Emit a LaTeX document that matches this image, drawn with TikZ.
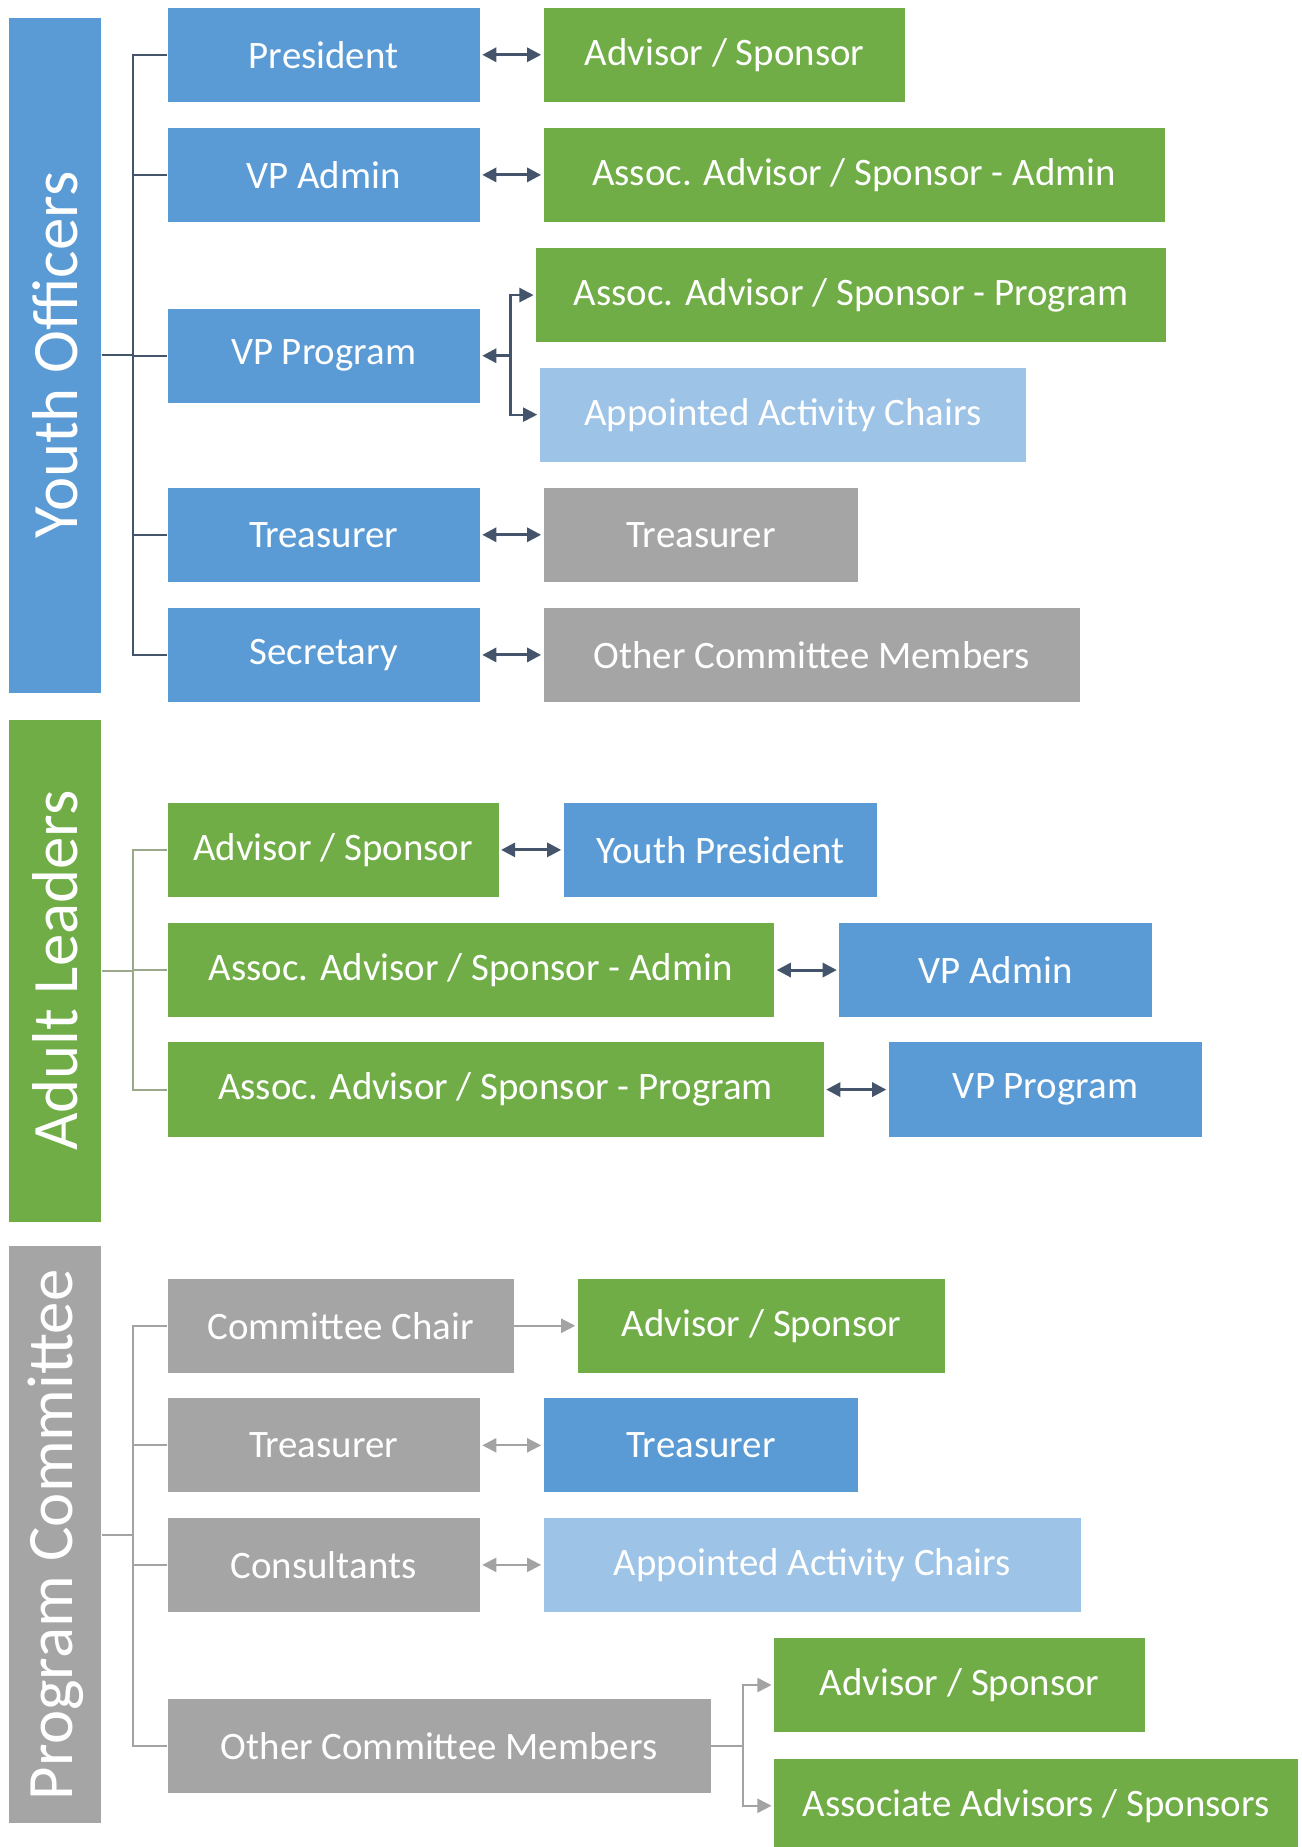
\documentclass[tikz,border=0pt]{standalone}
\usepackage{fontspec}
\setmainfont{Carlito}
\usetikzlibrary{positioning,arrows.meta}
\definecolor{offblue}{HTML}{5B9BD5}
\definecolor{offgreen}{HTML}{70AD47}
\definecolor{offgray}{HTML}{A5A5A5}
\definecolor{offpale}{HTML}{9DC3E6}
\definecolor{slate}{HTML}{44546A}
\definecolor{softline}{HTML}{A3A3A3}
\definecolor{olivegray}{HTML}{9AA88C}
\tikzset{
  rect/.style={
    rectangle,
    anchor=west,
    inner sep=0pt,
    minimum height=80pt,
    text=white,
    font=\fontsize{33}{40}\selectfont,
  },
  bluebox/.style={rect, fill=offblue},
  greenbox/.style={rect, fill=offgreen},
  graybox/.style={rect, fill=offgray},
  palebox/.style={rect, fill=offpale},
  bar/.style={
    rectangle,
    rotate=90,
    inner sep=0pt,
    minimum height=78pt,
    text=white,
    font=\fontsize{55}{60}\selectfont,
  },
  branch/.style={line width=1.6pt},
  dbl/.style={
    line width=2.5pt,
    shorten <=2pt,
    shorten >=2pt,
    {Triangle[length=12pt,width=12pt]}-{Triangle[length=12pt,width=12pt]},
  },
  one/.style={
    line width=2.5pt,
    shorten >=2pt,
    -{Triangle[length=12pt,width=12pt]},
  },
}

\begin{document}
\begin{tikzpicture}[x=1pt,y=-1pt]
  \useasboundingbox (0,0) rectangle (1105,1568);

  % youth officers
  \node[bar, fill=offblue, minimum width=573pt] (yo) at (47,301.5) {Youth Officers};
  \node[bluebox, minimum width=265pt] (pres) at (142,46.5) {President};
  \node[bluebox, minimum width=265pt] (vpa) at (142,148.5) {VP Admin};
  \node[bluebox, minimum width=265pt] (vpp) at (142,302) {VP Program};
  \node[bluebox, minimum width=265pt] (trs) at (142,454) {Treasurer};
  \node[bluebox, minimum width=265pt] (sec) at (142,556) {Secretary};

  \node[greenbox, minimum width=307pt, right=54pt of pres] (adv) {Advisor / Sponsor};
  \node[greenbox, minimum width=527pt, right=54pt of vpa] (asad) {Assoc. Advisor / Sponsor - Admin};
  \node[greenbox, minimum width=535pt] (aspr) at (455,250.5) {Assoc. Advisor / Sponsor - Program};
  \node[palebox, minimum width=413pt] (appt) at (458,352) {Appointed Activity Chairs};
  \node[graybox, minimum width=267pt, right=54pt of trs] (ctrs) {Treasurer};
  \node[graybox, minimum width=455pt, right=54pt of sec] (ocm) {Other Committee Members};

  \foreach \n in {pres,vpa,vpp,trs,sec}
    \draw[branch, slate] (yo.south) -- ++(27,0) |- (\n.west);

  \draw[dbl, slate] (pres) -- (adv);
  \draw[dbl, slate] (vpa) -- (asad);
  \draw[one, slate] (vpp.east) ++(26,0) coordinate (vpj) -- (vpp.east);
  \draw[one, slate, line width=1.8pt] (vpj) |- (aspr.west);
  \draw[one, slate, line width=1.8pt] (vpj) |- (appt.west);
  \draw[dbl, slate] (trs) -- (ctrs);
  \draw[dbl, slate] (sec) -- (ocm);

  % adult leaders
  \node[bar, fill=offgreen, minimum width=426pt] (al) at (47,824) {Adult Leaders};
  \node[greenbox, minimum width=281pt] (aadv) at (142,721.5) {Advisor / Sponsor};
  \node[greenbox, minimum width=515pt] (aasa) at (142,823.5) {Assoc. Advisor / Sponsor - Admin};
  \node[greenbox, minimum width=557pt] (aasp) at (142,925) {Assoc. Advisor / Sponsor - Program};

  \node[bluebox, minimum width=266pt, right=55pt of aadv] (ypres) {Youth President};
  \node[bluebox, minimum width=265pt, right=55pt of aasa] (yvpa) {VP Admin};
  \node[bluebox, minimum width=266pt, right=55pt of aasp] (yvpp) {VP Program};

  \foreach \n in {aadv,aasa,aasp}
    \draw[branch, olivegray] (al.south) -- ++(27,0) |- (\n.west);

  \draw[dbl, slate] (aadv) -- (ypres);
  \draw[dbl, slate] (aasa) -- (yvpa);
  \draw[dbl, slate] (aasp) -- (yvpp);

  % program committee
  \node[bar, fill=offgray, minimum width=490pt] (pc) at (47,1303) {Program Committee};
  \node[graybox, minimum width=294pt] (chair) at (142,1125.5) {Committee Chair};
  \node[graybox, minimum width=265pt] (ptrs) at (142,1227) {Treasurer};
  \node[graybox, minimum width=265pt] (cons) at (142,1328.5) {Consultants};
  \node[graybox, minimum width=461pt] (pocm) at (142,1482) {Other Committee Members};

  \node[greenbox, minimum width=312pt, right=54pt of chair] (padv) {Advisor / Sponsor};
  \node[bluebox, minimum width=267pt, right=54pt of ptrs] (yptrs) {Treasurer};
  \node[palebox, minimum width=456pt, right=54pt of cons] (pappt) {Appointed Activity Chairs};
  \node[greenbox, minimum width=315pt] (oadv) at (657,1430.5) {Advisor / Sponsor};
  \node[greenbox, minimum width=445pt] (oasc) at (657,1533) {Associate Advisors / Sponsors};

  \foreach \n in {chair,ptrs,cons,pocm}
    \draw[branch, softline] (pc.south) -- ++(27,0) |- (\n.west);

  \draw[one, softline, line width=1.8pt] (chair) -- (padv);
  \draw[dbl, softline, line width=1.8pt] (ptrs) -- (yptrs);
  \draw[dbl, softline, line width=1.8pt] (cons) -- (pappt);
  \draw[branch, softline] (pocm.east) -- ++(27,0) coordinate (ocj);
  \draw[one, softline, line width=1.6pt] (ocj) |- (oadv.west);
  \draw[one, softline, line width=1.6pt] (ocj) |- (oasc.west);
\end{tikzpicture}
\end{document}
